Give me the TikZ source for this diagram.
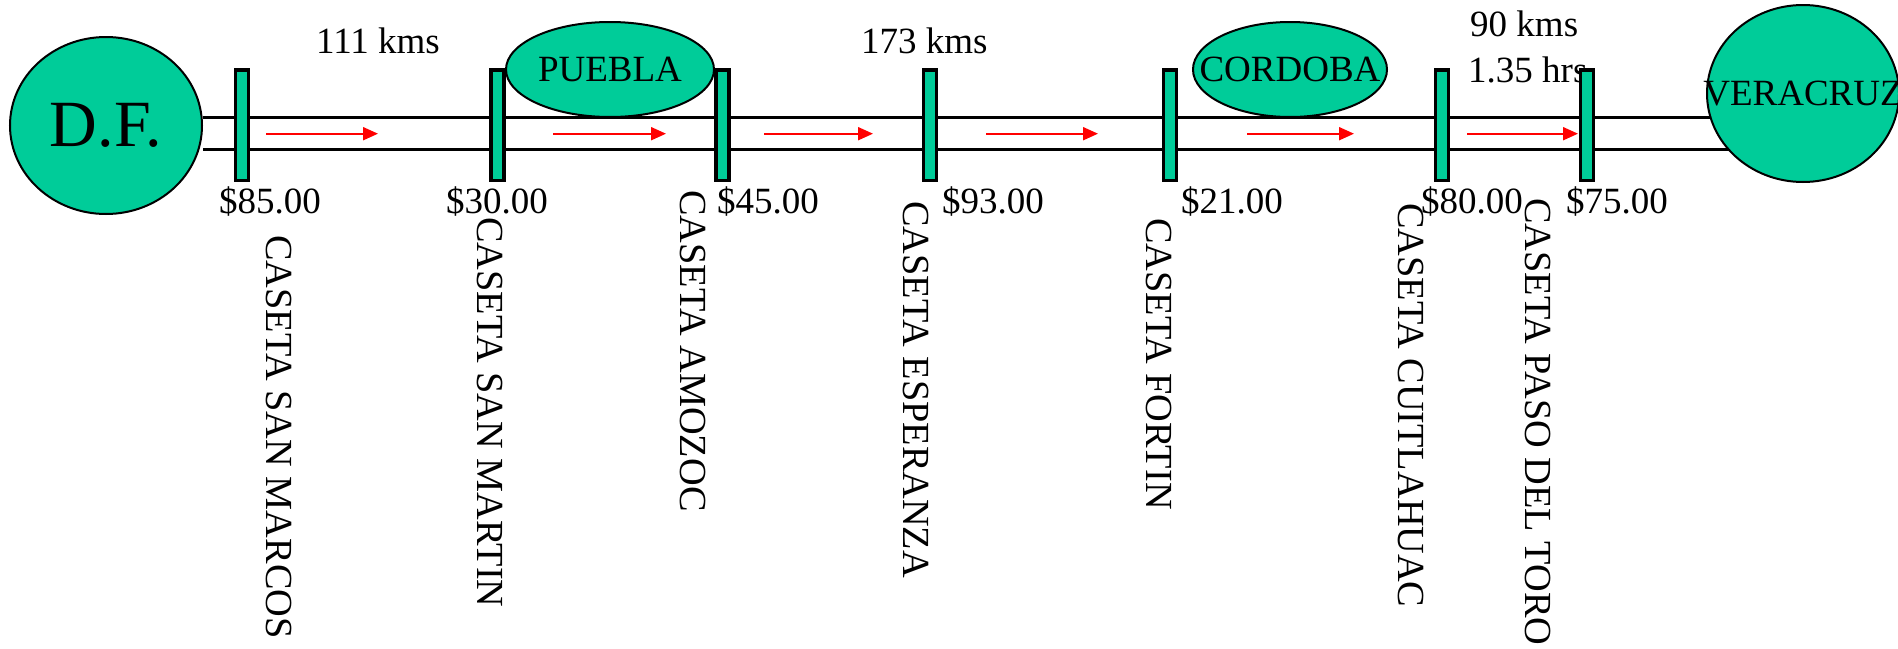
\documentclass[tikz,border=0pt]{standalone}
\usepackage{fontspec}
\setmainfont{Liberation Serif}
\usetikzlibrary{shapes.geometric, arrows.meta, positioning}
\pgfdeclarelayer{background}
\pgfsetlayers{background,main}
\definecolor{casetagreen}{RGB}{0,204,153}
\tikzset{
x=1pt, y=-1pt, % one unit is one pixel of the sketch, y runs downwards
every node/.style={font=\fontsize{37}{44}\selectfont, inner sep=0pt}, % Times-like text everywhere
place/.style={ellipse, draw, line width=2pt, fill=casetagreen}, % the cities
booth/.style={rectangle, draw, line width=3.5pt, fill=casetagreen, minimum width=13, minimum height=110.5}, % toll booths
road/.style={line width=2.5pt}, % the two edges of the highway
dir/.style={draw=red, line width=2pt, -{Triangle[length=15pt,width=13pt]}}, % direction of travel
caseta/.style={rotate=-90, anchor=base west, font=\fontsize{38.3}{44}\selectfont}, % names of the toll booths, read downwards
price/.style={anchor=base west}, % fee of each booth
}

\begin{document}
\begin{tikzpicture}
    \useasboundingbox (0,0) rectangle (1898,648);
    % cities
    \node[place, minimum width=192, minimum height=177, label={[font=\fontsize{66}{70}\selectfont]center:D.F.}] (df) at (106,125.5) {};
    \node[place, minimum width=192, minimum height=177, label={center:VERACRUZ}] (vc) at (1803,93.5) {};
    \node[place, minimum width=208, minimum height=95, label={center:PUEBLA}] (pue) at (610,69.5) {};
    \node[place, minimum width=194, minimum height=95, label={center:CORDOBA}] (cor) at (1290,69.5) {};
    % highway
    \coordinate (rtop) at (0,117.7);
    \coordinate (rbot) at (0,149.7);
    \begin{pgfonlayer}{background}
    \draw[road] (df.east |- rtop) -- (vc.center |- rtop);
    \draw[road] (df.east |- rbot) -- (vc.center |- rbot);
    \end{pgfonlayer}
    \foreach \s/\e in {266/378, 553/666, 764/873, 986/1098, 1247/1354, 1467/1578}
        \draw[dir] (\s,133.7) -- (\e,133.7);
    % distances
    \node[anchor=base west] (d1) at (316,53) {111 kms};
    \node[anchor=base west] (d2) at (861,53) {173 kms};
    \node[anchor=base west] (d3) at (1470,36) {90 kms};
    \node[anchor=base west] (t3) at (1468,82) {1.35 hrs};
    % toll booths
    \node[booth] (marcos) at (242,125) {};
    \node[booth] (martin) at (497.5,125) {};
    \node[booth] (amozoc) at (722.5,125) {};
    \node[booth] (esperanza) at (930,125) {};
    \node[booth] (fortin) at (1170,125) {};
    \node[booth] (cuitla) at (1442,125) {};
    \node[booth] (toro) at (1587,125) {};
    % fees
    \node[price] (p1) at (219,213) {\$85.00};
    \node[price] (p2) at (446,213) {\$30.00};
    \node[price] (p3) at (717,213) {\$45.00};
    \node[price] (p4) at (942,213) {\$93.00};
    \node[price] (p5) at (1181,213) {\$21.00};
    \node[price] (p6) at (1421,213) {\$80.00};
    \node[price] (p7) at (1566,213) {\$75.00};
    % booth names
    \node[caseta] (c1) at (266,235) {CASETA SAN MARCOS};
    \node[caseta] (c2) at (477,217) {CASETA SAN MARTIN};
    \node[caseta] (c3) at (680,190) {CASETA AMOZOC};
    \node[caseta] (c4) at (903,201) {CASETA ESPERANZA};
    \node[caseta] (c5) at (1146,218) {CASETA FORTIN};
    \node[caseta] (c6) at (1398,203) {CASETA CUITLAHUAC};
    \node[caseta] (c7) at (1525,198) {CASETA PASO DEL TORO};
  \end{tikzpicture}
\end{document}
